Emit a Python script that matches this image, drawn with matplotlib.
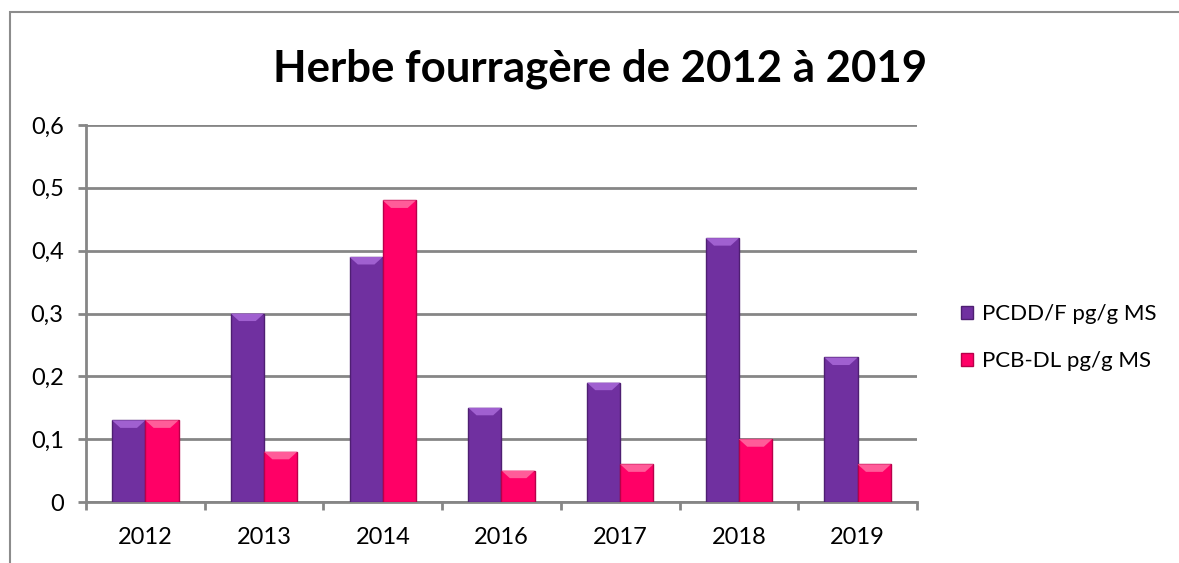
# Herbe fourragère chart, grouped bars
import numpy as np
import matplotlib.pyplot as plt
from matplotlib.patches import Rectangle, Polygon

# Data
years = ['2012', '2013', '2014', '2016', '2017', '2018', '2019']
pcdd_f = [0.13, 0.30, 0.39, 0.15, 0.19, 0.42, 0.23]
pcb_dl = [0.13, 0.08, 0.48, 0.05, 0.06, 0.10, 0.06]
labels = ['PCDD/F pg/g MS', 'PCB-DL pg/g MS']

plt.rcParams['font.family'] = ['Lato', 'DejaVu Sans']

fig = plt.figure(figsize=(11.79, 5.63), dpi=100)
ax = fig.add_axes([0.0729, 0.1083, 0.7049, 0.6697])

# chart border (runs off the right and bottom edge)
fig.patches.append(Rectangle((10 / 1179, -0.02), 1.1, (563 - 12) / 563 + 0.02,
                             transform=fig.transFigure, fill=False,
                             edgecolor='#8c8c8c', linewidth=1.5))

x = np.arange(len(years))
w = 0.28
grey = '#868686'


def bevel(bars, light):
    # lighter top bevel like the excel 3d effect
    for b in bars:
        x0, y0 = b.get_x(), b.get_y()
        bw, bh = b.get_width(), b.get_height()
        d = 0.012
        ax.add_patch(Polygon([(x0, y0 + bh), (x0 + bw, y0 + bh),
                              (x0 + bw * 0.75, y0 + bh - d), (x0 + bw * 0.25, y0 + bh - d)],
                             closed=True, facecolor=light, edgecolor='none', zorder=4))


b1 = ax.bar(x - w / 2, pcdd_f, w, color='#7030a0', edgecolor='#4e1f72',
            linewidth=1, label=labels[0], zorder=3)
b2 = ax.bar(x + w / 2, pcb_dl, w, color='#ff0066', edgecolor='#b8004a',
            linewidth=1, label=labels[1], zorder=3)
bevel(b1, '#a060d0')
bevel(b2, '#ff5c99')

ax.set_xlim(-0.5, len(years) - 0.5)
ax.set_ylim(0, 0.6)
ax.set_yticks(np.arange(0, 0.61, 0.1))
ax.set_yticklabels(['0', '0,1', '0,2', '0,3', '0,4', '0,5', '0,6'])
ax.set_xticks(np.arange(-0.5, len(years), 1), minor=False)
ax.set_xticklabels([])
ax.set_xticks(x, minor=True)
ax.set_xticklabels(years, minor=True)
ax.tick_params(axis='x', which='minor', length=0, pad=18, labelsize=17)
ax.tick_params(axis='x', which='major', length=6, width=2, color=grey, direction='out')
ax.tick_params(axis='y', length=6, width=2, color=grey, direction='out', pad=10, labelsize=17)

ax.yaxis.grid(True, color=grey, linewidth=2, zorder=0)
ax.set_axisbelow(True)
for s in ['top', 'right']:
    ax.spines[s].set_visible(False)
for s in ['left', 'bottom']:
    ax.spines[s].set_color(grey)
    ax.spines[s].set_linewidth(2)

fig.text(0.509, 0.877, 'Herbe fourragère de 2012 à 2019', ha='center', va='center',
         fontsize=31.5, fontweight='bold')

fig.legend(loc='center left', bbox_to_anchor=(0.798, 0.4), frameon=False,
           fontsize=16, handlelength=0.55, handleheight=0.55, handletextpad=0.4,
           labelspacing=1.2)

fig.savefig('out.png', dpi=100)
